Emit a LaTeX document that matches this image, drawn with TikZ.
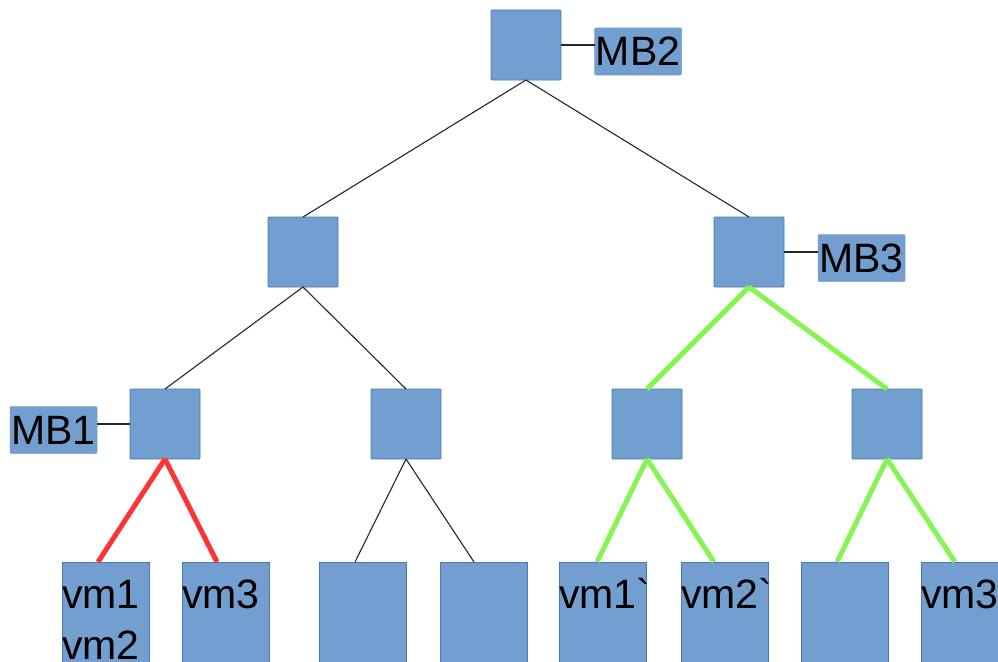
\documentclass[tikz,border=0pt]{standalone}
\usepackage{fontspec}
\setmainfont{Liberation Sans}
\newfontfamily\plainsans{Liberation Sans}
\definecolor{boxfill}{HTML}{729FCF}
\definecolor{boxline}{HTML}{4A78B4}
\definecolor{hotred}{RGB}{255,51,51}
\definecolor{litegreen}{RGB}{134,245,84}
\begin{document}
\begin{tikzpicture}[x=1pt,y=-1pt,
  cell/.style={draw=boxline,fill=boxfill,line width=0.8pt,rounded corners=1pt,
    minimum width=70pt,minimum height=70pt,inner sep=0pt,outer sep=0pt},
  leaf/.style={draw=boxline,fill=boxfill,line width=0.8pt,
    minimum width=87pt,minimum height=140pt,inner sep=0pt,outer sep=0pt,anchor=north west},
  tag/.style={draw=boxline!70,fill=boxfill,line width=0.5pt,rounded corners=1pt,
    minimum width=87pt,minimum height=47pt,inner sep=0pt,outer sep=0pt,
    font=\fontsize{41}{49}\selectfont},
  vmtext/.style={inner sep=0pt,outer sep=0pt,anchor=base west,
    font=\plainsans\fontsize{41}{49}\selectfont},
  thin/.style={draw=black!85,line width=1.1pt},
  redlink/.style={draw=hotred,line width=5pt},
  greenlink/.style={draw=litegreen,line width=5pt}]
\path[use as bounding box, clip] (0,0) rectangle (998,661);

% tree cells
\node[cell] (root) at (526,45) {};
\node[cell] (l) at (303,252) {};
\node[cell] (r) at (749,252) {};
\node[cell] (ll) at (165,424) {};
\node[cell] (lr) at (406,424) {};
\node[cell] (rl) at (647,424) {};
\node[cell] (rr) at (887,424) {};

% leaves
\node[leaf] (a) at (62,562) {};
\node[leaf] (b) at (182,562) {};
\node[leaf] (c) at (319,562) {};
\node[leaf] (d) at (440,562) {};
\node[leaf] (e) at (559,562) {};
\node[leaf] (f) at (681,562) {};
\node[leaf] (g) at (801,562) {};
\node[leaf] (h) at (921,562) {};

% leaf texts
\node[vmtext] (ta1) at ([yshift=-46pt]a.north west) {vm1};
\node[vmtext] (ta2) at ([yshift=-97pt]a.north west) {vm2};
\node[vmtext] (tb) at ([yshift=-46pt]b.north west) {vm3};
\node[vmtext] (te) at ([yshift=-46pt]e.north west) {vm1`};
\node[vmtext] (tf) at ([yshift=-46pt]f.north west) {vm2`};
\node[vmtext] (th) at ([yshift=-46pt]h.north west) {vm3`};

% labels
\node[tag] (mb2) at (638,51.5) {MB2};
\node[tag] (mb3) at (861.5,258) {MB3};
\node[tag] (mb1) at (53.5,430) {MB1};
\draw[thin] (root.east) -- (root.east -| mb2.west);
\draw[thin] (r.east) -- (r.east -| mb3.west);
\draw[thin] (ll.west) -- (ll.west -| mb1.east);

% links
\draw[thin] (root.south) -- (l.north);
\draw[thin] (root.south) -- (r.north);
\draw[thin] (l.south) -- (ll.north);
\draw[thin] (l.south) -- (lr.north);
\draw[greenlink] (r.south) -- (rl.north);
\draw[greenlink] (r.south) -- (rr.north);
\draw[redlink] (ll.south) -- ([xshift=36pt]a.north west);
\draw[redlink] (ll.south) -- ([xshift=35pt]b.north west);
\draw[thin] (lr.south) -- ([xshift=36pt]c.north west);
\draw[thin] (lr.south) -- ([xshift=34pt]d.north west);
\draw[greenlink] (rl.south) -- ([xshift=38pt]e.north west);
\draw[greenlink] (rl.south) -- ([xshift=33pt]f.north west);
\draw[greenlink] (rr.south) -- ([xshift=36pt]g.north west);
\draw[greenlink] (rr.south) -- ([xshift=34pt]h.north west);
\end{tikzpicture}
\end{document}
